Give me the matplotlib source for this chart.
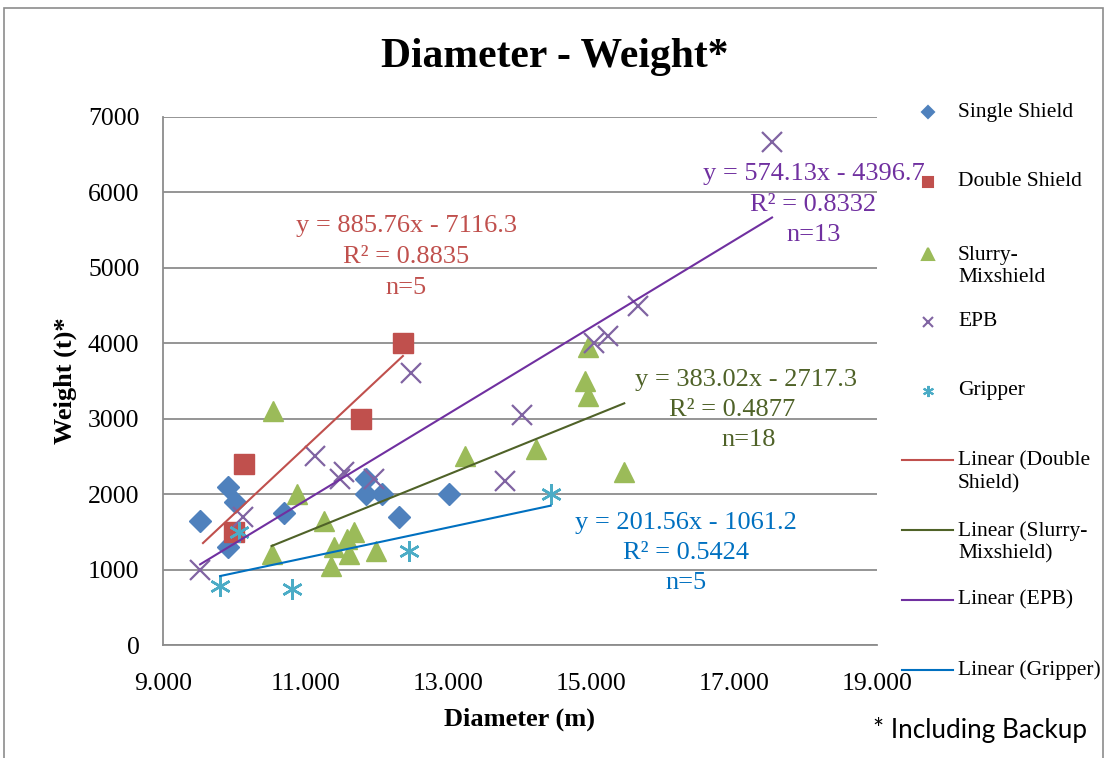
import numpy as np
import matplotlib.pyplot as plt
from matplotlib.lines import Line2D
from matplotlib.patches import Rectangle
from matplotlib.ticker import FormatStrFormatter

plt.rcParams['font.family'] = ['Liberation Serif', 'DejaVu Serif']

# Data: diameter (m), weight (t)
single_x = [9.52, 9.91, 10.01, 9.91, 10.70, 11.85, 11.85, 12.07, 12.30, 13.00]
single_y = [1650, 2100, 1900, 1300, 1750, 2200, 2000, 2000, 1700, 2000]

double_x = [10.13, 9.99, 11.77, 12.36]
double_y = [2400, 1500, 3000, 4000]

slurry_x = [10.54, 10.88, 11.26, 10.52, 11.39, 11.35, 11.58, 11.68, 11.61, 11.99,
            13.23, 14.23, 14.95, 14.91, 14.95, 15.46]
slurry_y = [3100, 2000, 1650, 1200, 1300, 1050, 1400, 1500, 1200, 1250,
            2500, 2600, 3950, 3500, 3300, 2300]

epb_x = [9.52, 10.12, 11.13, 11.53, 11.48, 11.96, 12.47, 14.03, 13.79, 15.04, 15.23, 15.65, 17.53]
epb_y = [1000, 1700, 2500, 2300, 2200, 2200, 3600, 3050, 2170, 4000, 4100, 4500, 6670]

gripper_x = [9.80, 10.81, 10.06, 12.44, 14.43]
gripper_y = [780, 740, 1500, 1250, 2000]

# Trendlines (slope, intercept, x-range) as given on the chart
trend_names = ['Double\nShield', 'Slurry-\nMixshield', 'EPB', 'Gripper']
trend_slope = [885.76, 383.02, 574.13, 201.56]
trend_icpt = [-7116.3, -2717.3, -4396.7, -1061.2]
trend_xmin = [9.56, 10.52, 9.52, 9.80]
trend_xmax = [12.36, 15.46, 17.53, 14.43]
trend_r2 = ['0.8835', '0.4877', '0.8332', '0.5424']
trend_n = [5, 18, 13, 5]

c_single = '#4F81BD'
c_double = '#C0504D'
c_slurry = '#9BBB59'
c_epb = '#8064A2'
c_grip = '#4BACC6'
trend_colors = ['#C0504D', '#4F6228', '#7030A0', '#0070C0']

fig = plt.figure(figsize=(11.05, 7.58), dpi=100)
ax = fig.add_axes([163/1105, 1-645/758, (877-163)/1105, (645-117)/758])

star6 = (6, 2, 0)
ax.plot(single_x, single_y, 'D', ms=11, color=c_single, mec=c_single, zorder=3)
ax.plot(double_x, double_y, 's', ms=14, color=c_double, mec=c_double, zorder=3)
ax.plot(slurry_x, slurry_y, '^', ms=15, color=c_slurry, mec=c_slurry, zorder=3)
ax.plot(epb_x, epb_y, 'x', ms=14, color=c_epb, mew=1.6, zorder=3)
ax.plot(gripper_x, gripper_y, marker=star6, ls='none', ms=15, color=c_grip, mew=1.8, zorder=3)

for k in range(4):
    xs = np.array([trend_xmin[k], trend_xmax[k]])
    ax.plot(xs, trend_slope[k]*xs + trend_icpt[k], color=trend_colors[k], lw=1.5, zorder=4)

# equation labels (per-line positions in data coords)
label_x = [12.41, 17.17, 18.11, 16.32]
label_y = [[5557, 5146, 4735], [3515, 3117, 2719], [6247, 5836, 5438], [1618, 1220, 822]]
label_dx = [[0, 0, 0], [0, -0.2, 0.03], [0, 0, 0], [0, 0, 0]]
for k in range(4):
    lines = ['y = %.2fx - %.1f' % (trend_slope[k], -trend_icpt[k]),
             'R² = ' + trend_r2[k], 'n=%d' % trend_n[k]]
    for j, t in enumerate(lines):
        ax.text(label_x[k] + label_dx[k][j], label_y[k][j], t, ha='center', va='center',
                fontsize=19, color=trend_colors[k], clip_on=False, zorder=5)

ax.set_xlim(9, 19)
ax.set_ylim(0, 7000)
ax.set_xticks(np.arange(9, 20, 2))
ax.set_yticks(np.arange(0, 7001, 1000))
ax.xaxis.set_major_formatter(FormatStrFormatter('%.3f'))
ax.tick_params(length=0, labelsize=18.5)
ax.tick_params(axis='x', pad=20)
ax.tick_params(axis='y', pad=17)
ax.grid(axis='y', color='#8c8c8c', lw=1.3)
ax.set_axisbelow(True)
for s in ['top', 'right']:
    ax.spines[s].set_visible(False)
for s in ['left', 'bottom']:
    ax.spines[s].set_color('#8c8c8c')
    ax.spines[s].set_linewidth(1.3)

ax.set_xlabel('Diameter (m)', fontsize=19, fontweight='bold', labelpad=9)
ax.set_ylabel('Weight (t)*', fontsize=19, fontweight='bold', labelpad=8)
fig.text(555/1105, 1-57/758, 'Diameter - Weight*', ha='center', va='center',
         fontsize=30, fontweight='bold')
fig.text(873/1105, 1-730/758, '* Including Backup', ha='left', va='center',
         fontsize=18.8, family=['Lato', 'DejaVu Sans'])

# legend, placed by hand
leg_labels = ['Single Shield', 'Double Shield', 'Slurry-\nMixshield', 'EPB', 'Gripper'] + \
             ['Linear (' + n + ')' for n in trend_names]
leg_y = [112, 182, 254, 322, 391, 460, 530, 600, 670]
leg_markers = [('D', c_single, 6), ('s', c_double, 7.5), ('^', c_slurry, 8),
               ('x', c_epb, 7), (star6, c_grip, 8)]
for i, lab in enumerate(leg_labels):
    yf = 1 - leg_y[i]/758
    if i < 5:
        m, c, s = leg_markers[i]
        fig.add_artist(Line2D([928/1105], [yf], marker=m, color=c, ms=s, mew=1.5, ls='none'))
    else:
        fig.add_artist(Line2D([902/1105, 953/1105], [yf, yf], color=trend_colors[i-5], lw=1.5))
    nl = lab.count('\n')
    fig.text(958/1105, yf - nl*12.5/758, lab, ha='left', va='center', fontsize=15.5,
             linespacing=1.25)

fig.add_artist(Rectangle((4/1105, -0.01), 1099/1105, 1.0 - 8/758 + 0.01, transform=fig.transFigure,
                         fill=False, ec='#8c8c8c', lw=1.2))

fig.savefig('out.png', dpi=100)
